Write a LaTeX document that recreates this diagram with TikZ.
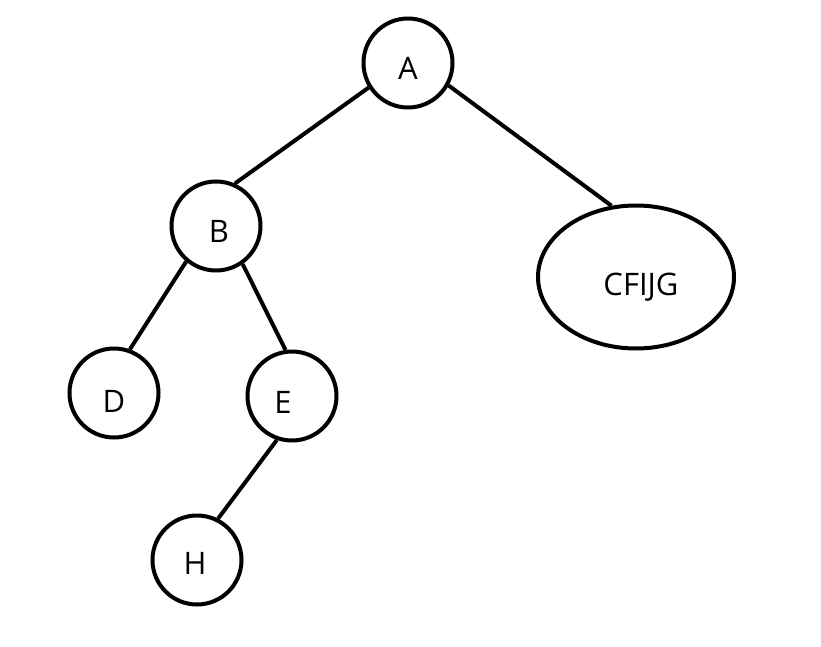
\documentclass[tikz,border=0pt]{standalone}
\usepackage{fontspec}
\setmainfont{Open Sans}
\usetikzlibrary{shapes.geometric}
\begin{document}
\begin{tikzpicture}[x=1pt,y=-1pt,
  lbl/.style={font=\fontsize{31}{35}\selectfont,inner sep=0pt},
  tnode/.style={draw=black,line width=4pt,circle,minimum size=89pt,inner sep=0pt},
  enode/.style={draw=black,line width=4pt,ellipse,minimum width=196pt,minimum height=143pt,inner sep=0pt},
  edge/.style={draw=black,line width=4pt}]
\useasboundingbox (0,0) rectangle (821,647);
\node[tnode,label={[lbl,yshift=-5pt]center:A}] (A) at (408,63) {};
\node[tnode,label={[lbl,yshift=-5pt,xshift=3pt]center:B}] (B) at (216,226) {};
\node[tnode,label={[lbl,yshift=-8pt]center:D}] (D) at (114,393) {};
\node[tnode,label={[lbl,yshift=-6pt,xshift=-9pt]center:E}] (E) at (292,396) {};
\node[tnode,label={[lbl,yshift=-3pt,xshift=-2pt]center:H}] (H) at (197,560) {};
\node[enode,label={[lbl,yshift=-10pt,xshift=5pt]center:CFIJG}] (C) at (636,277) {};
\draw[edge] (A.212) -- (B.66);
\draw[edge] (A.331) -- (C.109);
\draw[edge] (B.230) -- (D.70);
\draw[edge] (B.305) -- (E.98);
\draw[edge] (E.251) -- (H.63);
\end{tikzpicture}
\end{document}
